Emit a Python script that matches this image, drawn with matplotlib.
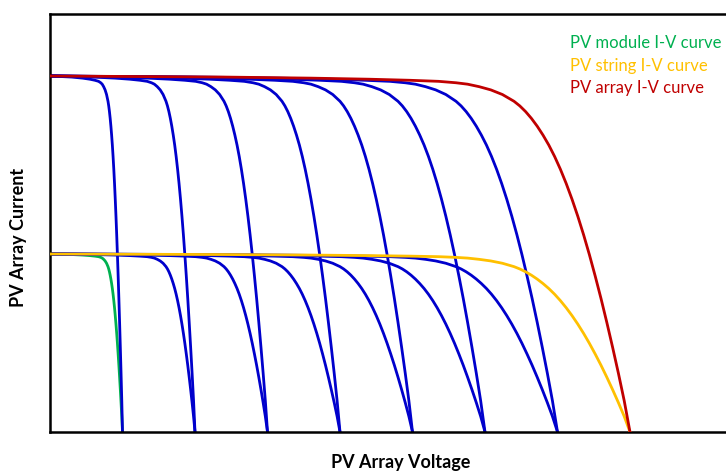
import numpy as np
import matplotlib
matplotlib.use("Agg")
import matplotlib.pyplot as plt

# one module I-V curve (fraction of Voc, fraction of Isc)
module_v = [0.00, 0.30, 0.45, 0.55, 0.62, 0.67, 0.70, 0.72, 0.74, 0.76, 0.78,
            0.80, 0.81, 0.82, 0.83, 0.84, 0.85, 0.86, 0.87, 0.88, 0.89, 0.90,
            0.91, 0.92, 0.93, 0.94, 0.95, 0.96, 0.97, 0.98, 0.99, 1.00]
module_i = [1.000, 0.997, 0.994, 0.991, 0.988, 0.985, 0.981, 0.977, 0.970, 0.961, 0.948,
            0.929, 0.916, 0.900, 0.881, 0.859, 0.834, 0.806, 0.774, 0.738, 0.698, 0.654,
            0.606, 0.554, 0.498, 0.438, 0.375, 0.308, 0.238, 0.165, 0.088, 0.000]

voc_module = 1.0
isc_module = 1.0
modules_per_string = 8
strings = 2

# (modules in series, strings in parallel) for the blue partial curves
blue_top = [(n, 2) for n in range(1, 8)]
blue_bottom = [(n, 1) for n in range(2, 8)]

legend_labels = ["PV module I-V curve", "PV string I-V curve", "PV array I-V curve"]
legend_colors = ["#00B050", "#FFC000", "#C00000"]

mv = np.array(module_v)
mi = np.array(module_i)


def curve(ns, npar):
    return ns * voc_module * mv, npar * isc_module * mi


fig = plt.figure(figsize=(7.26, 4.72), dpi=100)
ax = fig.add_axes([50 / 726, 40 / 472, 676 / 726, 418 / 472])

kw = dict(lw=2.0, solid_joinstyle="round", solid_capstyle="round")
for ns, npar in blue_top + blue_bottom:
    x, y = curve(ns, npar)
    ax.plot(x, y, color="#0000CC", zorder=2, **kw)

x, y = curve(1, 1)
ax.plot(x, y, color=legend_colors[0], zorder=1, **kw)
x, y = curve(modules_per_string, 1)
ax.plot(x, y, color=legend_colors[1], zorder=3, **kw)
x, y = curve(modules_per_string, strings)
ax.plot(x, y, color=legend_colors[2], zorder=3, **kw)

ax.set_xlim(0, 676 / 72.5)
ax.set_ylim(0, 418 / 178)
ax.set_xticks([])
ax.set_yticks([])
ax.spines["right"].set_visible(False)
for s in ["left", "bottom", "top"]:
    ax.spines[s].set_linewidth(1.8)
    ax.spines[s].set_color("black")

for k, (lab, col) in enumerate(zip(legend_labels, legend_colors)):
    fig.text(570 / 726, 1 - (43 + 22.5 * k) / 472, lab, color=col,
             fontsize=12, family="Lato", ha="left", va="center")

fig.text(19 / 726, 1 - 237 / 472, "PV Array Current", rotation=90,
         fontsize=13, fontweight="bold", family="Lato", ha="center", va="center")
fig.text(401 / 726, 1 / 472, "PV Array Voltage",
         fontsize=13, fontweight="bold", family="Lato", ha="center", va="bottom")

fig.savefig("out.png", dpi=100)
